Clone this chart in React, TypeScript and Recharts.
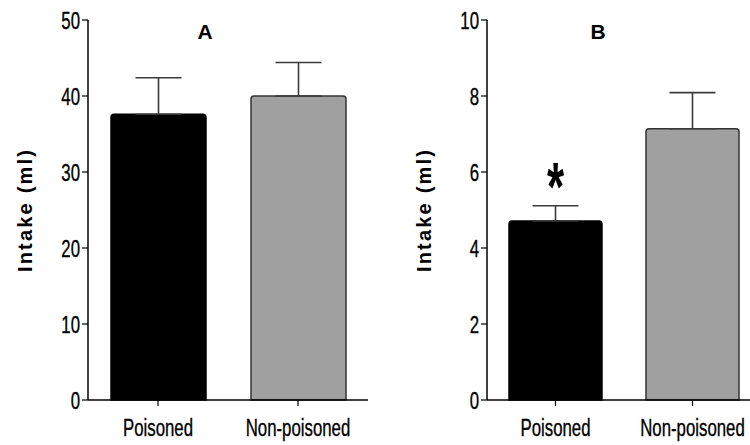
import { Bar, BarChart, Cell, ErrorBar, LabelList, XAxis, YAxis } from 'recharts';

const categories = ['Poisoned', 'Non-poisoned'];
const intakeA = [37.6, 40.0];
const semA = [4.8, 4.4];
const intakeB = [4.71, 7.14];
const semB = [0.4, 0.95];
const marksB = ['*', ''];
const ticksA = [0, 10, 20, 30, 40, 50];
const ticksB = [0, 2, 4, 6, 8, 10];
const barFills = ['#000000', '#a0a0a0'];
const barStrokes = ['#000000', '#333333'];

const sans = "'Liberation Sans', Arial, sans-serif";
// the original uses a condensed face; squeeze Liberation Sans horizontally instead
const SQUEEZE = 0.7;

function buildRows(values: number[], sem: number[], marks?: string[]) {
  return categories.map((name, i) => ({
    name,
    value: values[i],
    err: [0, sem[i]],
    mark: marks ? marks[i] : '',
  }));
}

function XTick({ x, y, payload }: any) {
  return (
    <text
      transform={`translate(${x} ${y}) scale(${SQUEEZE} 1)`}
      textAnchor="middle"
      dy="0.71em"
      fontFamily={sans}
      fontSize={24}
      fill="#000"
      stroke="#000"
      strokeWidth={0.35}
    >
      {payload.value}
    </text>
  );
}

function YTick({ x, y, payload }: any) {
  return (
    <text
      transform={`translate(${x} ${y}) scale(${SQUEEZE} 1)`}
      textAnchor="end"
      dy="0.36em"
      fontFamily={sans}
      fontSize={24}
      fill="#000"
      stroke="#000"
      strokeWidth={0.35}
    >
      {payload.value}
    </text>
  );
}

// rotated, letter-spaced axis title
function AxisTitle({ viewBox }: any) {
  const cx = 25;
  const cy = viewBox.y + viewBox.height / 2;
  return (
    <text
      x={cx}
      y={cy}
      transform={`rotate(-90 ${cx} ${cy})`}
      textAnchor="middle"
      dominantBaseline="central"
      fontFamily={sans}
      fontWeight="bold"
      fontSize={20}
      letterSpacing={2.2}
      fill="#000"
    >
      Intake (ml)
    </text>
  );
}

function Star(props: any) {
  const { x, y, width, value } = props;
  if (!value) return null;
  const cx = x + width / 2;
  const cy = y - 50;
  return (
    <g transform={`translate(${cx} ${cy}) scale(1 1.55)`}>
      <text x={0} y={25} textAnchor="middle" fontFamily={sans} fontWeight="bold" fontSize={44} fill="#000">
        {value}
      </text>
    </g>
  );
}

interface PanelProps {
  rows: ReturnType<typeof buildRows>;
  ticks: number[];
  title: string;
  titleX: number;
  left: number;
  width: number;
  right: number;
  barSize: number;
}

function Panel({ rows, ticks, title, titleX, left, width, right, barSize }: PanelProps) {
  return (
    <div style={{ position: 'absolute', left, top: 0, width, height: 445 }}>
      <BarChart width={width} height={445} data={rows} margin={{ top: 20, right, bottom: 0, left: 0 }}>
        <XAxis
          dataKey="name"
          height={45}
          tick={<XTick />}
          tickSize={6}
          tickMargin={13}
          axisLine={{ stroke: '#000', strokeWidth: 1.5 }}
          tickLine={{ stroke: '#000', strokeWidth: 1.2 }}
        />
        <YAxis
          width={88}
          domain={[0, ticks[ticks.length - 1]]}
          ticks={ticks}
          interval={0}
          tick={<YTick />}
          tickSize={6}
          tickMargin={2}
          axisLine={{ stroke: '#000', strokeWidth: 1.5 }}
          tickLine={{ stroke: '#000', strokeWidth: 1.2 }}
          label={<AxisTitle />}
        />
        <Bar dataKey="value" barSize={barSize} radius={[3, 3, 0, 0]} isAnimationActive={false}>
          {rows.map((r, i) => (
            <Cell key={r.name} fill={barFills[i]} stroke={barStrokes[i]} strokeWidth={1.5} />
          ))}
          <ErrorBar dataKey="err" width={23} stroke="#3a3a3a" strokeWidth={1.6} isAnimationActive={false} />
          <LabelList dataKey="mark" content={<Star />} />
        </Bar>
      </BarChart>
      <div
        style={{
          position: 'absolute',
          left: titleX - left - 20,
          top: 20,
          width: 40,
          textAlign: 'center',
          fontFamily: sans,
          fontWeight: 'bold',
          fontSize: 21,
          lineHeight: '24px',
        }}
      >
        {title}
      </div>
    </div>
  );
}

export default function App() {
  return (
    <div
      style={{
        position: 'absolute',
        left: 0,
        top: 0,
        width: 750,
        height: 445,
        overflow: 'hidden',
        background: '#fff',
      }}
    >
      <Panel rows={buildRows(intakeA, semA)} ticks={ticksA} title="A" titleX={205} left={0} width={375} right={7} barSize={95} />
      <Panel
        rows={buildRows(intakeB, semB, marksB)}
        ticks={ticksB}
        title="B"
        titleX={598}
        left={399}
        width={362}
        right={0}
        barSize={93}
      />
    </div>
  );
}
